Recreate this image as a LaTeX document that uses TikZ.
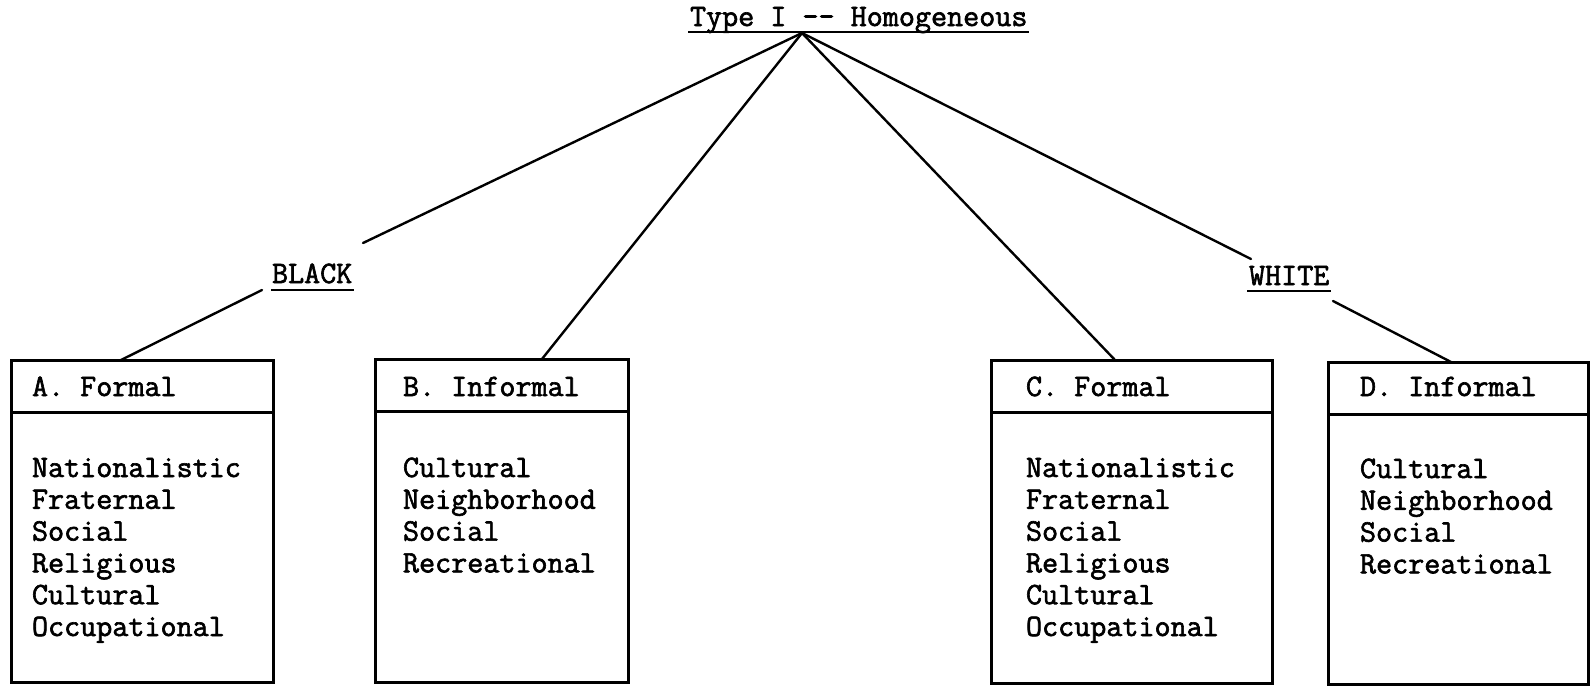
\documentclass[tikz,border=0pt]{standalone}
\usepackage{fontspec}
\usetikzlibrary{calc}
\newfontfamily\typewriter{Latin Modern Mono}[FakeBold=2]
\newcommand{\twsize}{\typewriter\fontsize{31.2}{31.8}\selectfont}

\tikzset{
  conn/.style={line width=2.4pt, line cap=round},
  frame/.style={draw, line width=3pt, rectangle, anchor=north west,
                inner sep=0pt, outer sep=0pt},
  frameline/.style={line width=3pt},
  uline/.style={line width=2pt},
  tw/.style={font=\twsize, anchor=base west, inner sep=0pt, outer sep=0pt},
}

\begin{document}
\begin{tikzpicture}[x=1pt, y=1pt]
\useasboundingbox (0,0) rectangle (1591,-686);

% heading and its underline
\node[tw] (title) at (690,-26) {Type I \mbox{-}\mbox{-} Homogeneous};
\draw[uline] ($(title.base west)+(-2,-6)$) -- ($(title.base east)+(2,-6)$);
\coordinate (apex) at (802,-33);

% group labels
\node[tw] (black) at (272,-283) {BLACK};
\draw[uline] ($(black.base west)+(-1,-7)$) -- ($(black.base east)+(2,-7)$);
\node[tw] (white) at (1249,-285) {WHITE};
\draw[uline] ($(white.base west)+(-2,-6)$) -- ($(white.base east)+(2,-6)$);

% the four boxes
\node[frame, minimum width=262pt, minimum height=322pt] (A) at (11,-360) {};
\node[frame, minimum width=253pt, minimum height=323pt] (B) at (375,-359) {};
\node[frame, minimum width=281pt, minimum height=323pt] (C) at (991,-360) {};
\node[frame, minimum width=260pt, minimum height=322pt] (D) at (1328,-362) {};

\foreach \b in {A,B,C,D}{
  \draw[frameline] ($(\b.north west)+(0,-52)$) -- ($(\b.north east)+(0,-52)$);
}

% box headings
\node[tw] (Ah) at (32,-396)   {A. Formal};
\node[tw] (Bh) at (403,-396)  {B. Informal};
\node[tw] (Ch) at (1026,-396) {C. Formal};
\node[tw] (Dh) at (1360,-396) {D. Informal};

% box contents
\foreach \t [count=\i] in {Nationalistic,Fraternal,Social,Religious,Cultural,Occupational}{
  \node[tw] (A\i) at (32,{-477-31.8*(\i-1)}) {\t};
  \node[tw] (C\i) at (1026,{-477-31.8*(\i-1)}) {\t};
}
\foreach \t [count=\i] in {Cultural,Neighborhood,Social,Recreational}{
  \node[tw] (B\i) at (403,{-477-31.8*(\i-1)}) {\t};
  \node[tw] (D\i) at (1360,{-478-31.8*(\i-1)}) {\t};
}

% connectors
\coordinate (blackin)  at (363,-243);
\coordinate (blackout) at (262,-290);
\coordinate (whitein)  at (1251,-259);
\coordinate (whiteout) at (1333,-301);

\draw[conn] (apex) -- (blackin);
\draw[conn] (apex) -- ($(B.north west)+(167,0)$);
\draw[conn] (apex) -- ($(C.north west)+(124,0)$);
\draw[conn] (apex) -- (whitein);
\draw[conn] (blackout) -- ($(A.north west)+(110,0)$);
\draw[conn] (whiteout) -- ($(D.north west)+(123,0)$);
\end{tikzpicture}
\end{document}
